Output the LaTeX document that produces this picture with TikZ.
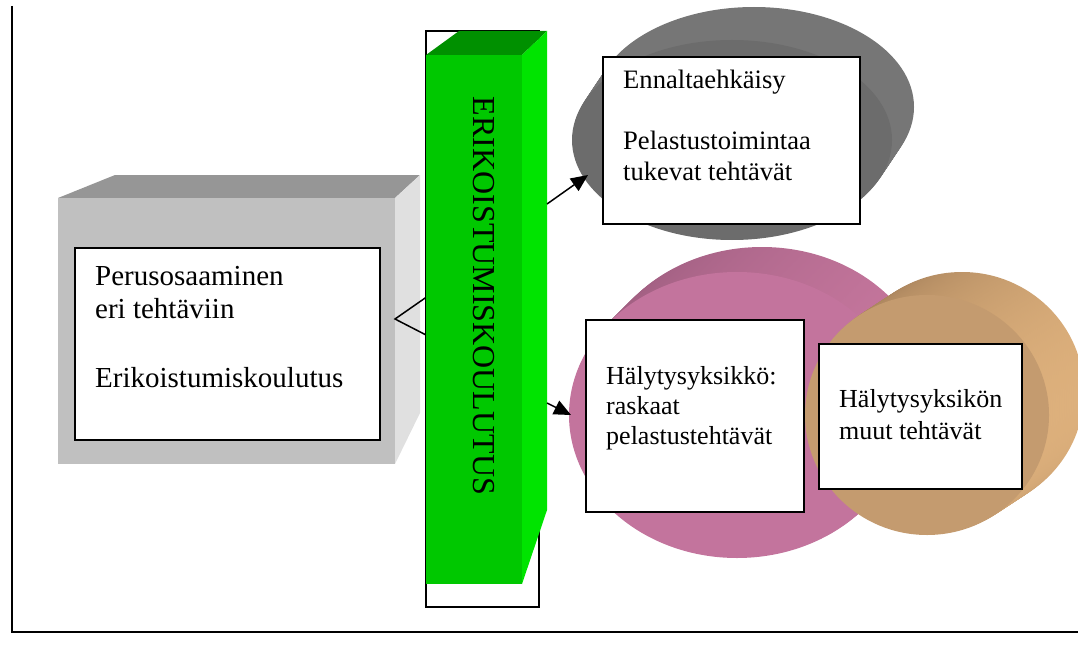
\documentclass[tikz,border=0pt]{standalone}
\usepackage{fontspec}
\setmainfont{Liberation Serif}
\usepackage{tikz}
\usetikzlibrary{arrows.meta}

\definecolor{boxfront}{HTML}{C0C0C0}
\definecolor{boxtop}{HTML}{969696}
\definecolor{boxside}{HTML}{E0E0E0}
\definecolor{barfront}{HTML}{00C800}
\definecolor{bartop}{HTML}{009000}
\definecolor{barside}{HTML}{00E400}
\definecolor{grayface}{HTML}{6C6C6C}
\definecolor{grayrim}{HTML}{767676}
\definecolor{pinkface}{HTML}{C3749D}
\definecolor{pinkrimL}{HTML}{9C5C7E}
\definecolor{pinkrimR}{HTML}{C8789F}
\definecolor{brownface}{HTML}{C49B6F}
\definecolor{brownrimL}{HTML}{9E7A56}
\definecolor{brownrimR}{HTML}{DDB07C}

\begin{document}
\begin{tikzpicture}[x=1pt,y=-1pt,
  whitebox/.style={draw=black,line width=1.6pt,fill=white,inner sep=0pt,anchor=north west},
  boxtext/.style={inner sep=0pt,anchor=base west},
  pointer/.style={line width=1.5pt,-{Triangle[length=17pt,width=15pt]}}]

\useasboundingbox (0,0) rectangle (1078,650);
\clip (0,0) rectangle (1078,650);

%frame
\draw[line width=2pt] (12,6) -- (12,632) -- (1078,632);

%basic box
\fill[boxtop] (58,198) -- (115,175) -- (420,175) -- (395,198) -- cycle;
\fill[boxside] (395,198) -- (420,175) -- (420,413) -- (395,464) -- cycle;
\fill[boxfront] (58,198) rectangle (395,464);
\node[whitebox,minimum width=305pt,minimum height=192pt] (basic) at (74,247) {};
\node[boxtext] (basictxt) at (95,285) {\parbox[t]{280pt}{\fontsize{29}{33}\selectfont
  Perusosaaminen\\eri tehtäviin\\[36pt]Erikoistumiskoulutus}};

%link to bar
\coordinate (linkA) at (428,296);
\coordinate (linkB) at (395,319);
\coordinate (linkC) at (428,336);
\draw[line width=1.5pt] (linkA) -- (linkB) -- (linkC);

%bar
\draw[line width=1.6pt,fill=white] (426,31) rectangle (539,607);
\fill[bartop] (426,55) -- (459,31) -- (547,31) -- (522,55) -- cycle;
\fill[barside] (522,55) -- (547,31) -- (547,510) -- (522,584) -- cycle;
\fill[barfront] (426,55) rectangle (522,584);
\node[rotate=-90,inner sep=0pt,font=\fontsize{32}{38}\selectfont] (bartxt) at (484,296) {ERIKOISTUMISKOULUTUS};

%gray disc
\foreach \k in {20,...,1}
  \fill[grayrim,shift={(\k*1.1,-\k*1.65)}] (732,140) ellipse [x radius=160,y radius=100];
\fill[grayface] (732,140) ellipse [x radius=160,y radius=100];

%pink disc
\foreach \k in {20,...,1}
  \shade[left color=pinkrimL,right color=pinkrimR,shift={(\k*1.25,-\k*1.25)}] (737,415) ellipse [x radius=168,y radius=143];
\fill[pinkface] (737,415) ellipse [x radius=168,y radius=143];

%brown disc
\foreach \k in {20,...,1}
  \shade[left color=brownrimL,right color=brownrimR,shift={(\k*1.75,-\k*1.15)}] (927,415) ellipse [x radius=122,y radius=120];
\fill[brownface] (927,415) ellipse [x radius=122,y radius=120];

%support
\node[whitebox,minimum width=257pt,minimum height=167pt] (support) at (602,56) {};
\node[boxtext] (supporttxt) at (623,89) {\parbox[t]{230pt}{\fontsize{26.6}{31}\selectfont
  Ennaltaehkäisy\\[30pt]Pelastustoimintaa\\tukevat tehtävät}};

%heavy
\node[whitebox,minimum width=218pt,minimum height=192pt] (heavy) at (585,319) {};
\node[boxtext] (heavytxt) at (606,384) {\parbox[t]{200pt}{\fontsize{26}{30}\selectfont
  Hälytysyksikkö:\\raskaat\\pelastustehtävät}};

%other
\node[whitebox,minimum width=203pt,minimum height=145pt] (other) at (818,343) {};
\node[boxtext] (othertxt) at (839,407) {\parbox[t]{185pt}{\fontsize{26}{32}\selectfont
  Hälytysyksikön\\muut tehtävät}};

%arrows
\coordinate (fromA) at (547,204);
\coordinate (toA) at (588,175);
\coordinate (fromB) at (547,403);
\coordinate (toB) at (571,415);
\draw[pointer] (fromA) -- (toA);
\draw[pointer] (fromB) -- (toB);

\end{tikzpicture}
\end{document}
